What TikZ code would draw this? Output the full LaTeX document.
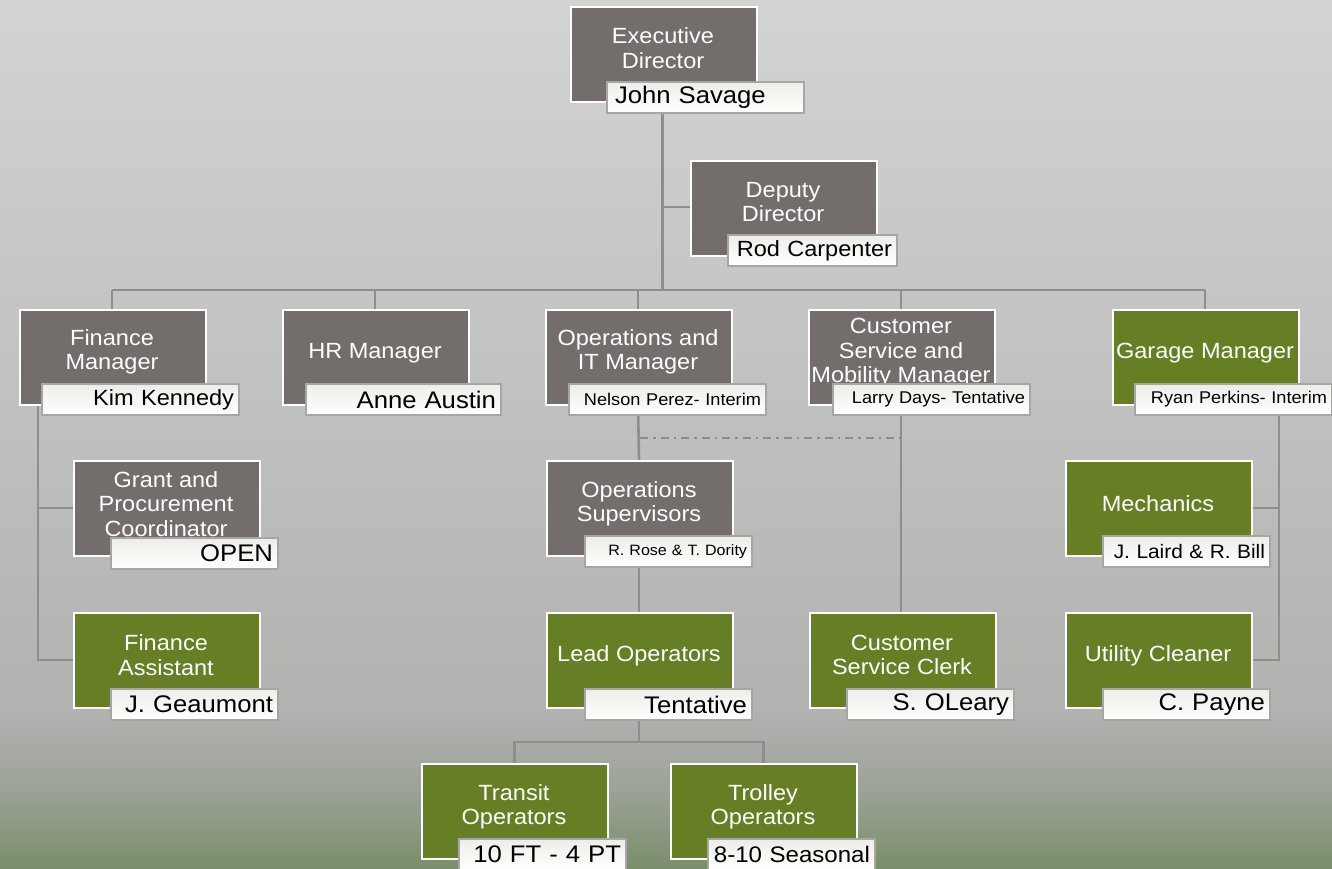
\documentclass[tikz,border=0pt]{standalone}
\usepackage{fontspec}
\setmainfont{Liberation Sans}[FakeStretch=1.07]
\definecolor{boxgray}{HTML}{736E6C}
\definecolor{boxgreen}{HTML}{677F24}
\definecolor{conn}{HTML}{8E8E8E}
\definecolor{lblborder}{HTML}{A6A6A6}
\definecolor{lbltop}{HTML}{EDEDE8}
\definecolor{bgtop}{HTML}{D3D3D3}
\definecolor{bgmid}{HTML}{C3C3C3}
\definecolor{bglow}{HTML}{B2B2B1}
\definecolor{bgg}{HTML}{9BA297}
\definecolor{bgbot}{HTML}{7B8E6B}
\pgfdeclareverticalshading{bgshade}{100bp}{color(0bp)=(bgbot); color(25bp)=(bgbot); color(29.5bp)=(bgg); color(34bp)=(bglow); color(55bp)=(bgmid); color(75bp)=(bgtop); color(100bp)=(bgtop)}
\tikzset{
  box/.style={draw=white, line width=2pt, minimum width=186pt, minimum height=95pt, anchor=north west, inner sep=0pt},
  graybox/.style={box, fill=boxgray},
  greenbox/.style={box, fill=boxgreen},
  btext/.style={text=white, align=center, inner sep=0pt, font=\fontsize{22}{24.5}\selectfont},
  lbl/.style={draw=lblborder, line width=2pt, top color=lbltop, bottom color=white, anchor=north west, minimum height=31pt, inner xsep=5pt, inner ysep=0pt, align=right},
  lblw/.style={lbl, text width=187pt},
  lbln/.style={lbl, text width=157pt},
  conline/.style={draw=conn, line width=2.6pt},
  dotline/.style={draw=gray!90, line width=2pt, dash pattern=on 8pt off 5pt on 2.5pt off 5pt}
}
\newcommand\fs[1]{\fontsize{#1}{#1}\selectfont}
\begin{document}
\begin{tikzpicture}[x=1pt,y=-1pt]
\useasboundingbox (0,0) rectangle (1332,868);
\begin{scope}[y=1pt]
\shade[shading=bgshade] (0,-868) rectangle (1332,0);
\end{scope}

% junction coordinates
\coordinate (busL) at (112,290);
\coordinate (busR) at (1205,290);
\coordinate (edj) at (662.5,207);
\coordinate (fmv) at (38,404);
\coordinate (gmv) at (1279,404);
\coordinate (opbus) at (639,742);
\coordinate (dashL) at (640,438);
\coordinate (dashR) at (900,438);

% boxes (positions)
\path
  (570,6) coordinate (edp) (690,160) coordinate (ddp)
  (19,309) coordinate (fmp) (282,309) coordinate (hrp) (545,309) coordinate (opp)
  (808,309) coordinate (csp) (1112,309) coordinate (gmp)
  (73,460) coordinate (gpp) (546,460) coordinate (osp) (1065,460) coordinate (mep)
  (73,612) coordinate (fap) (546,612) coordinate (lop) (809,612) coordinate (ccp) (1065,612) coordinate (ucp)
  (421,763) coordinate (top) (670,763) coordinate (trp);

% connectors
\draw[conline] (edp) ++(92.5,95) coordinate (eds) -- (eds |- busL);
\draw[conline] (edj) -- (ddp |- edj);
\draw[conline] (busL) -- (busR);
\foreach \p/\c in {fmp/112, hrp/375, opp/638, csp/901, gmp/1205}{
  \draw[conline] (\c,290) -- (\c,309);
}
\draw[conline] (fmv) |- (gpp |- 0,508);
\draw[conline] (fmv) |- (fap |- 0,660);
\draw[conline] (gmv) |- (1251,508);
\draw[conline] (gmv) |- (1251,660);
\draw[conline] (638,404) -- (639,460);
\draw[conline] (639,556) -- (639,612);
\draw[conline] (639,708) -- (opbus);
\draw[conline] (514.5,763) |- (opbus) -| (763.5,763);
\draw[conline] (901,404) -- (901,612);
\draw[dotline] (dashL) -- (dashR);

% boxes
\node[graybox] (ed) at (edp) {};
\node[graybox] (dd) at (ddp) {};
\node[graybox] (fm) at (fmp) {};
\node[graybox] (hr) at (hrp) {};
\node[graybox] (op) at (opp) {};
\node[graybox] (cs) at (csp) {};
\node[greenbox] (gm) at (gmp) {};
\node[graybox] (gp) at (gpp) {};
\node[graybox] (os) at (osp) {};
\node[greenbox] (me) at (mep) {};
\node[greenbox] (fa) at (fap) {};
\node[greenbox] (lo) at (lop) {};
\node[greenbox] (cc) at (ccp) {};
\node[greenbox] (uc) at (ucp) {};
\node[greenbox] (to) at (top) {};
\node[greenbox] (tr) at (trp) {};

% box texts
\node[btext] (edt) at (663,48) {Executive\\Director};
\node[btext] (ddt) at (783,202) {Deputy\\Director};
\node[btext] (fmt) at (112,352) {Finance\\Manager};
\node[btext] (hrt) at (375,353) {HR Manager};
\node[btext] (opt) at (638,352) {Operations and\\IT Manager};
\node[btext] (cst) at (901,353) {Customer\\Service and\\Mobility Manager};
\node[btext] (gmt) at (1205,353) {Garage Manager};
\node[btext] (gpt) at (166,504) {Grant and\\Procurement\\Coordinator};
\node[btext] (ost) at (639,504) {Operations\\Supervisors};
\node[btext] (met) at (1158,504) {Mechanics};
\node[btext] (fat) at (166,655) {Finance\\Assistant};
\node[btext] (lot) at (639,656) {Lead Operators};
\node[btext] (cct) at (902,655) {Customer\\Service Clerk};
\node[btext] (uct) at (1158,656) {Utility Cleaner};
\node[btext] (tot) at (514,807) {Transit\\Operators};
\node[btext] (trt) at (763,807) {Trolley\\Operators};

% name labels
\node[lblw, align=left, font=\fs{24}] (edl) at (606,81) {\hspace*{3pt}John Savage};
\node[lbl, text width=159pt, font=\fs{22}] (ddl) at (727,234) {Rod Carpenter};
\node[lblw, font=\fs{22}] (fml) at (41,383) {Kim Kennedy};
\node[lbl, text width=185pt, font=\fs{24}] (hrl) at (305,383) {Anne Austin};
\node[lblw, font=\fs{17}] (opl) at (568,383) {Nelson Perez- Interim};
\node[lblw, font=\fs{17}] (csl) at (832,383) {Larry Days- Tentative};
\node[lblw, font=\fs{17}] (gml) at (1134,383) {Ryan Perkins- Interim};
\node[lbln, font=\fs{24}] (gpl) at (110,537) {OPEN};
\node[lbln, font=\fs{15}] (osl) at (584,535) {R. Rose \& T. Dority};
\node[lbln, font=\fs{19.5}] (mel) at (1102,535) {J. Laird \& R. Bill};
\node[lbln, font=\fs{24}] (fal) at (110,688) {J. Geaumont};
\node[lbln, font=\fs{24}] (lol) at (584,688) {Tentative};
\node[lbln, font=\fs{24}] (ccl) at (846,688) {S. OLeary};
\node[lbln, font=\fs{24}] (ucl) at (1102,688) {C. Payne};
\node[lbln, font=\fs{24}] (tol) at (458,838) {10 FT - 4 PT};
\node[lbln, font=\fs{22.5}] (trl) at (707,838) {\mbox{8-10 Seasonal}};
\end{tikzpicture}
\end{document}
